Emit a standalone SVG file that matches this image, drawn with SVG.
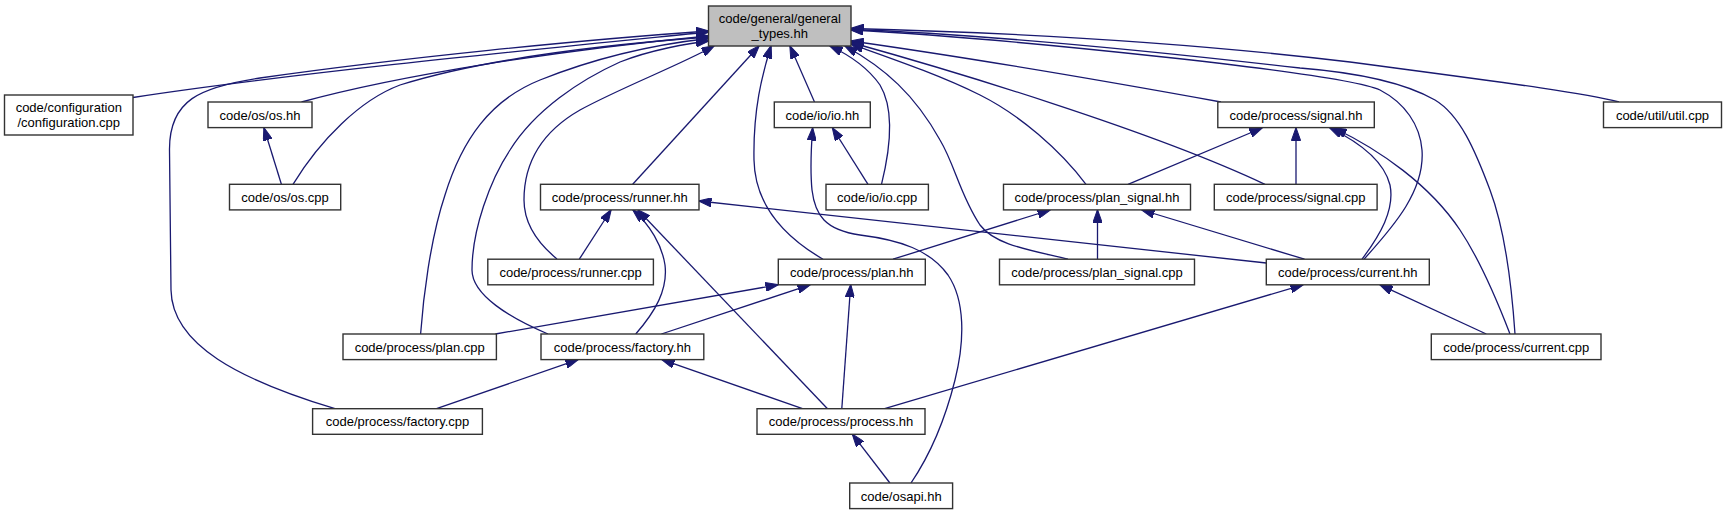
<svg xmlns="http://www.w3.org/2000/svg" width="1727" height="515" viewBox="0 0 1727 515">
<style>
.n rect{fill:#ffffff;stroke:#333333;stroke-width:1.4}
.n.root rect{fill:#bfbfbf}
.n text{font-family:"Liberation Sans",Arial,Helvetica,sans-serif;font-size:13px;fill:#000000;text-anchor:middle}
.e path{fill:none;stroke:#191970;stroke-width:1.3;marker-end:url(#ah)}
</style>
<defs>
<marker id="ah" viewBox="0 0 13 9.2" refX="12.5" refY="4.6" markerWidth="13" markerHeight="9.2" markerUnits="userSpaceOnUse" orient="auto">
<path d="M0,0 L13,4.6 L0,9.2 z" fill="#191970" stroke="#191970" stroke-width="1"/>
</marker>
</defs>
<rect width="1727" height="515" fill="#ffffff"/>
<g id="edges" class="e">
<path d="M133,97.5 C300,72 560,47 708.5,32"/>
<path d="M335,408.7 C240,380 172,345 171,290 L169.5,150 C169,100 200,87 260,78 C400,58 580,40 708.5,31"/>
<path d="M301.5,102 C400,75 560,50 708.5,36"/>
<path d="M293,184.3 C320,140 360,100 400,85 C480,60 600,45 708.5,37"/>
<path d="M420.6,334 C423,300 430,240 445,195 C462,140 490,100 540,80 C590,60 650,45 708.5,38.5"/>
<path d="M548,334 C510,318 472,295 472,270 C472,230 490,180 510,150 C535,110 580,80 620,62 C650,50 690,43 708.5,41"/>
<path d="M557,259 C540,245 524,225 524,200 C524,160 545,130 580,110 C620,88 680,65 714,46"/>
<path d="M632.7,184.3 L759,46"/>
<path d="M823,259.2 C790,240 755,210 754,160 C753,110 762,75 771,46"/>
<path d="M814.5,102 L790,46"/>
<path d="M881.5,184.3 C890,150 895,110 880,85 C866,65 845,53 830,46"/>
<path d="M1068,259.2 C1030,250 995,245 980,225 C960,195 955,165 940,140 C915,95 885,68 845,46"/>
<path d="M1086,184.3 C1060,150 1020,115 980,95 C940,75 890,58 851,44"/>
<path d="M1221,102 C1100,80 950,55 851,41"/>
<path d="M1265,184.3 C1150,130 950,70 851,42.5"/>
<path d="M1364,259.2 C1395,225 1425,190 1422,150 C1420,125 1405,103 1380,90 C1340,72 1000,38 851,30"/>
<path d="M1515,334 C1512,290 1505,230 1490,190 C1475,150 1460,115 1435,100 C1400,80 1350,72 1300,68 C1100,45 950,33 851,29.5"/>
<path d="M1619,102 C1580,92 1500,82 1350,62 C1150,38 950,31 851,28.5"/>
<path d="M281.4,184.3 L264,128"/>
<path d="M868,184.3 L832.5,128"/>
<path d="M911,483 C930,455 945,420 955,380 C965,340 965,300 948,275 C930,250 900,240 860,235 C825,230 815,215 812,190 C810,170 811,150 812.6,128"/>
<path d="M579.3,259.2 L611,210"/>
<path d="M635.7,334 C655,312 668,290 665,265 C662,245 650,225 633,210"/>
<path d="M827.5,408.7 L638,210"/>
<path d="M1266.3,263 L699,201"/>
<path d="M893,259.2 L1050,210"/>
<path d="M1097.5,259.2 L1097.5,210"/>
<path d="M1304.5,259.2 L1142,210"/>
<path d="M1128,184.3 L1262,128"/>
<path d="M1296,184.3 L1296,128"/>
<path d="M1362,259.2 C1380,235 1395,210 1390,185 C1385,165 1365,145 1330,128"/>
<path d="M1510,334 C1495,295 1480,260 1460,230 C1430,185 1380,150 1334,128"/>
<path d="M884.6,408.7 L1303,284.8"/>
<path d="M1486.3,334 L1380,284.8"/>
<path d="M495.4,334 L778,284.8"/>
<path d="M661.4,334 L810,284.8"/>
<path d="M841.8,408.7 L850.7,284.8"/>
<path d="M436.5,408.7 L578,359.6"/>
<path d="M802.5,408.7 L662,359.6"/>
<path d="M889.9,483 L852.5,434.3"/>
</g>
<g id="n_general_types" class="n root"><rect x="708.5" y="6" width="142.5" height="40"/><text x="779.75" y="23">code/general/general</text><text x="779.75" y="38">_types.hh</text></g>
<g id="n_configuration" class="n"><rect x="4.5" y="95" width="128.5" height="40"/><text x="68.75" y="112">code/configuration</text><text x="68.75" y="127">/configuration.cpp</text></g>
<g id="n_os_hh" class="n"><rect x="208" y="102" width="104" height="25.6"/><text x="260" y="119.5">code/os/os.hh</text></g>
<g id="n_os_cpp" class="n"><rect x="229.5" y="184.3" width="111.2" height="25.6"/><text x="285.1" y="201.8">code/os/os.cpp</text></g>
<g id="n_io_hh" class="n"><rect x="774.3" y="102" width="96" height="25.6"/><text x="822.3" y="119.5">code/io/io.hh</text></g>
<g id="n_io_cpp" class="n"><rect x="826" y="184.3" width="102.4" height="25.6"/><text x="877.2" y="201.8">code/io/io.cpp</text></g>
<g id="n_runner_hh" class="n"><rect x="540.5" y="184.3" width="158.5" height="25.6"/><text x="619.75" y="201.8">code/process/runner.hh</text></g>
<g id="n_plan_signal_hh" class="n"><rect x="1003.5" y="184.3" width="187" height="25.6"/><text x="1097" y="201.8">code/process/plan_signal.hh</text></g>
<g id="n_signal_hh" class="n"><rect x="1217.8" y="102" width="156.5" height="25.6"/><text x="1296.05" y="119.5">code/process/signal.hh</text></g>
<g id="n_signal_cpp" class="n"><rect x="1214.3" y="184.3" width="162.8" height="25.6"/><text x="1295.7" y="201.8">code/process/signal.cpp</text></g>
<g id="n_util_cpp" class="n"><rect x="1603.5" y="102" width="118" height="25.6"/><text x="1662.5" y="119.5">code/util/util.cpp</text></g>
<g id="n_runner_cpp" class="n"><rect x="487.8" y="259.2" width="165.6" height="25.6"/><text x="570.6" y="276.7">code/process/runner.cpp</text></g>
<g id="n_plan_hh" class="n"><rect x="778.3" y="259.2" width="147" height="25.6"/><text x="851.8" y="276.7">code/process/plan.hh</text></g>
<g id="n_plan_signal_cpp" class="n"><rect x="999.5" y="259.2" width="195" height="25.6"/><text x="1097" y="276.7">code/process/plan_signal.cpp</text></g>
<g id="n_current_hh" class="n"><rect x="1266.3" y="259.2" width="163" height="25.6"/><text x="1347.8" y="276.7">code/process/current.hh</text></g>
<g id="n_current_cpp" class="n"><rect x="1431.3" y="334" width="169.7" height="25.6"/><text x="1516.15" y="351.5">code/process/current.cpp</text></g>
<g id="n_plan_cpp" class="n"><rect x="343" y="334" width="153.4" height="25.6"/><text x="419.7" y="351.5">code/process/plan.cpp</text></g>
<g id="n_factory_hh" class="n"><rect x="541" y="334" width="162.8" height="25.6"/><text x="622.4" y="351.5">code/process/factory.hh</text></g>
<g id="n_factory_cpp" class="n"><rect x="312.6" y="408.7" width="169.8" height="25.6"/><text x="397.5" y="426.2">code/process/factory.cpp</text></g>
<g id="n_process_hh" class="n"><rect x="757" y="408.7" width="168" height="25.6"/><text x="841" y="426.2">code/process/process.hh</text></g>
<g id="n_osapi_hh" class="n"><rect x="849.7" y="483" width="102.9" height="25.6"/><text x="901.15" y="500.5">code/osapi.hh</text></g>
</svg>
